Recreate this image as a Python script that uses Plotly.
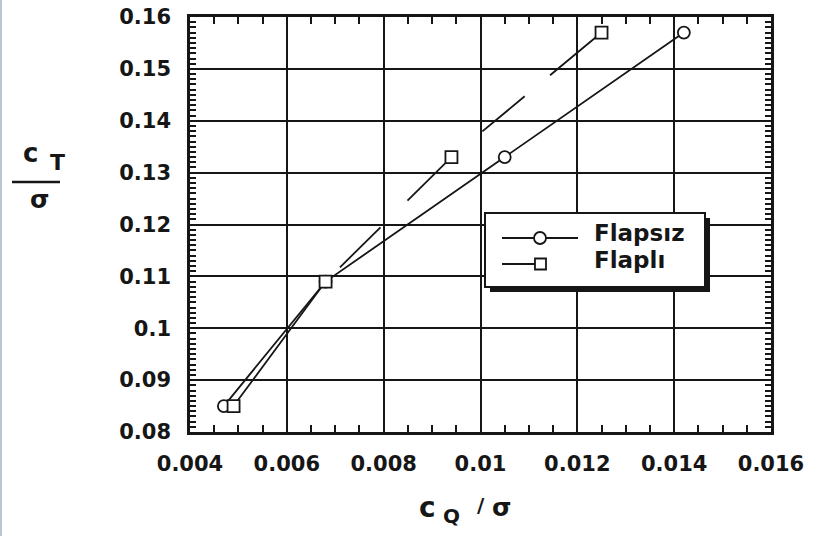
import plotly.graph_objects as go

# Data
flapsiz_x = [0.0047, 0.0068, 0.0105, 0.0142]
flapsiz_y = [0.085, 0.109, 0.133, 0.157]
flapli_x = [0.0049, 0.0068, 0.0094, 0.0125]
flapli_y = [0.085, 0.109, 0.133, 0.157]

x_ticks = [0.004, 0.006, 0.008, 0.01, 0.012, 0.014, 0.016]
x_labels = ["0.004", "0.006", "0.008", "0.01", "0.012", "0.014", "0.016"]
y_ticks = [0.08, 0.09, 0.10, 0.11, 0.12, 0.13, 0.14, 0.15, 0.16]
y_labels = ["0.08", "0.09", "0.1", "0.11", "0.12", "0.13", "0.14", "0.15", "0.16"]

series_names = ["Flapsız", "Flaplı"]

W, H = 816, 536
L, R, T, B = 190, 771, 17, 432  # plot area pixels


def px(x):
    return (x - L) / (R - L)


def py(y):
    return (B - y) / (B - T)


FONT = "DejaVu Sans, Arial, sans-serif"
INK = "#161616"

# hand-drawn style dash sequence of the "Flaplı" curve (solid first leg, long dashes after)
FLAPLI_DASH = "152px,23px,57px,38px,64px,38px,55px,33px,90px,40px"

fig = go.Figure()
fig.add_trace(go.Scatter(
    x=flapsiz_x, y=flapsiz_y, name=series_names[0], mode="lines+markers",
    line=dict(color=INK, width=1.8), showlegend=False,
    marker=dict(symbol="circle", size=12, color="white", line=dict(color=INK, width=1.8)),
))
fig.add_trace(go.Scatter(
    x=flapli_x, y=flapli_y, name=series_names[1], mode="lines+markers",
    line=dict(color=INK, width=1.8, dash=FLAPLI_DASH), showlegend=False,
    marker=dict(symbol="square", size=12, color="white", line=dict(color=INK, width=1.8)),
))

axis_common = dict(
    showline=True, linecolor=INK, linewidth=2.5, mirror="ticks",
    showgrid=True, gridcolor=INK, gridwidth=2, zeroline=False,
    ticks="inside", ticklen=7, tickcolor=INK, tickwidth=1.8,
    tickfont=dict(family=FONT, size=21, color=INK, weight="bold"),
    automargin=False,
)

fig.update_xaxes(
    range=[0.004, 0.016], tickvals=x_ticks, ticktext=x_labels,
    minor=dict(dtick=0.0005, tick0=0.004, ticks="inside", ticklen=7, tickcolor=INK, tickwidth=1.8, showgrid=False),
    ticklabelstandoff=11,
    **axis_common,
)
fig.update_yaxes(
    range=[0.08, 0.16], tickvals=y_ticks, ticktext=y_labels,
    minor=dict(dtick=0.001, tick0=0.08, ticks="inside", ticklen=6, tickcolor=INK, tickwidth=1.5, showgrid=False),
    ticklabelstandoff=12,
    **axis_common,
)

shapes = [
    # faint scan border on the left edge
    dict(type="line", xref="paper", yref="paper", x0=px(1), x1=px(1), y0=py(0), y1=py(536),
         line=dict(color="#b9c7cf", width=2), layer="above"),
    # y-title fraction bar
    dict(type="line", xref="paper", yref="paper", x0=px(12), x1=px(60), y0=py(182), y1=py(182),
         line=dict(color=INK, width=2.5)),
    # legend box: shadow, box
    dict(type="rect", xref="paper", yref="paper", x0=px(490), x1=px(710), y0=py(292), y1=py(218),
         fillcolor=INK, line=dict(width=0), layer="above"),
    dict(type="rect", xref="paper", yref="paper", x0=px(485), x1=px(705), y0=py(287), y1=py(213),
         fillcolor="white", line=dict(color=INK, width=2), layer="above"),
    # legend sample: Flapsız (line + circle)
    dict(type="line", xref="paper", yref="paper", x0=px(502), x1=px(578), y0=py(238), y1=py(238),
         line=dict(color=INK, width=1.8), layer="above"),
    dict(type="circle", xref="paper", yref="paper", x0=px(534), x1=px(546), y0=py(244), y1=py(232),
         fillcolor="white", line=dict(color=INK, width=1.8), layer="above"),
    # legend sample: Flaplı (line + square)
    dict(type="line", xref="paper", yref="paper", x0=px(502), x1=px(535), y0=py(264), y1=py(264),
         line=dict(color=INK, width=1.8), layer="above"),
    dict(type="rect", xref="paper", yref="paper", x0=px(535), x1=px(546), y0=py(269.5), y1=py(258.5),
         fillcolor="white", line=dict(color=INK, width=1.8), layer="above"),
]

bold = dict(family=FONT, color=INK, weight="bold")
annotations = [
    # legend labels
    dict(xref="paper", yref="paper", x=px(592), y=py(233), text=series_names[0], xanchor="left",
         yanchor="middle", showarrow=False, font=dict(size=23, **bold)),
    dict(xref="paper", yref="paper", x=px(592), y=py(260), text=series_names[1], xanchor="left",
         yanchor="middle", showarrow=False, font=dict(size=23, **bold)),
    # y title: c_T / sigma
    dict(xref="paper", yref="paper", x=px(30), y=py(153), text="c", xanchor="center",
         yanchor="middle", showarrow=False, font=dict(size=26, **bold)),
    dict(xref="paper", yref="paper", x=px(57), y=py(162), text="T", xanchor="center",
         yanchor="middle", showarrow=False, font=dict(size=22, **bold)),
    dict(xref="paper", yref="paper", x=px(39), y=py(200), text="σ", xanchor="center",
         yanchor="middle", showarrow=False, font=dict(size=25, **bold)),
    # x title: c_Q / sigma
    dict(xref="paper", yref="paper", x=px(427), y=py(508), text="c", xanchor="center",
         yanchor="middle", showarrow=False, font=dict(size=28, **bold)),
    dict(xref="paper", yref="paper", x=px(451), y=py(516), text="Q", xanchor="center",
         yanchor="middle", showarrow=False, font=dict(size=20, **bold)),
    dict(xref="paper", yref="paper", x=px(481), y=py(505), text="/", xanchor="center",
         yanchor="middle", showarrow=False, font=dict(size=20, **bold)),
    dict(xref="paper", yref="paper", x=px(501), y=py(507), text="σ", xanchor="center",
         yanchor="middle", showarrow=False, font=dict(size=25, **bold)),
]

fig.update_layout(
    width=W, height=H,
    margin=dict(l=L, r=W - R, t=T, b=H - B),
    paper_bgcolor="white", plot_bgcolor="white",
    font=dict(family=FONT, color=INK),
    showlegend=False,
    shapes=shapes,
    annotations=annotations,
)

fig.write_html("out.html")
